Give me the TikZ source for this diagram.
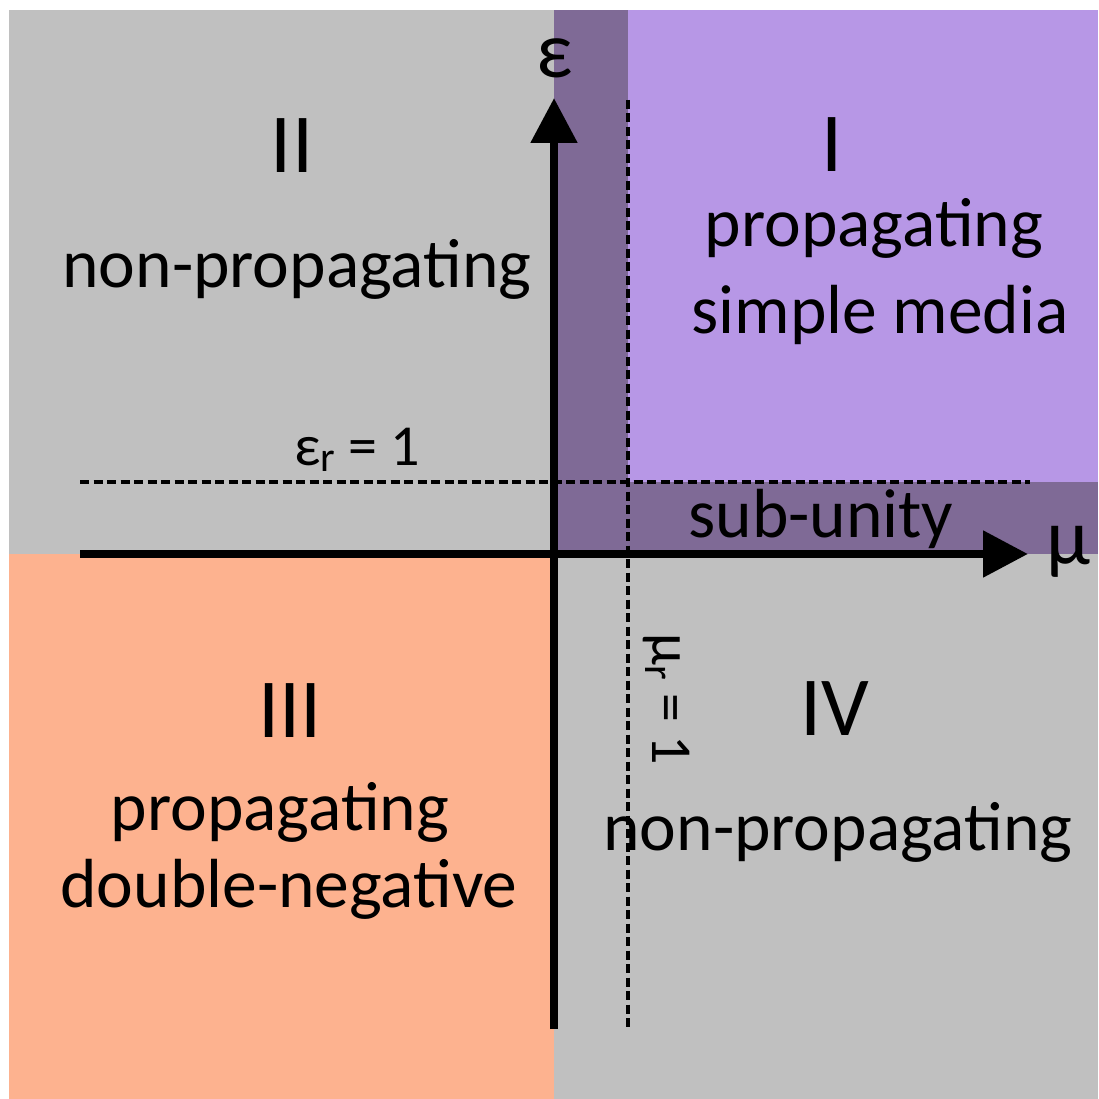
\documentclass[tikz,border=0pt]{standalone}
\usepackage{fontspec}
\setmainfont{Carlito}
\usetikzlibrary{arrows.meta}
\definecolor{qgray}{HTML}{C0C0C0}
\definecolor{qorange}{HTML}{FDB28F}
\definecolor{qlight}{HTML}{B797E6}
\definecolor{qdark}{HTML}{7F6A96}
\newcommand\mysub[1]{\raisebox{-0.25ex}{\fontsize{42}{42}\selectfont #1}}
\begin{document}
\begin{tikzpicture}[x=1pt,y=-1pt,
  big/.style={font=\fontsize{69.5}{80}\selectfont, inner sep=0pt, anchor=base},
  roman/.style={font=\fontsize{84}{96}\selectfont, inner sep=0pt, anchor=base},
  small/.style={font=\fontsize{58}{66}\selectfont, inner sep=0pt, anchor=base},
  axlabel/.style={font=\fontsize{80}{90}\selectfont, inner sep=0pt, anchor=base},
  axis/.style={line width=8.5pt, -{Triangle[length=45pt,width=45pt]}},
  guide/.style={line width=3.2pt, dash pattern=on 9pt off 4.5pt}]
\useasboundingbox (0,0) rectangle (1098,1099);
\fill[white] (0,0) rectangle (1098,1099);
\fill[qgray] (9,10) rectangle (1098,1099);
\fill[qorange] (9,554) rectangle (554,1099);
\fill[qlight] (554,10) rectangle (1098,554);
\fill[qdark] (554,10) rectangle (628,554);
\fill[qdark] (554,482) rectangle (1098,554);
% coordinates
\coordinate (hs) at (80,554);
\coordinate (he) at (1028,554);
\coordinate (vs) at (554,1029);
\coordinate (ve) at (554,98);
\coordinate (gh1) at (80,482);
\coordinate (gh2) at (1030,482);
\coordinate (gv1) at (628,100);
\coordinate (gv2) at (628,1028);
% guides
\draw[guide] (gh1) -- (gh2);
\draw[guide] (gv1) -- (gv2);
% axes
\draw[axis] (hs) -- (he);
\draw[axis] (vs) -- (ve);
% labels
\node[roman] (nII) at (292,173) {II};
\node[big] (tII) at (297,287) {non-propagating};
\node[roman] (nI) at (832,172) {I};
\node[big] (tI1) at (874,247) {propagating};
\node[big] (tI2) at (880,333) {simple media};
\node[roman] (nIII) at (290,737) {III};
\node[big] (tIII1) at (280,830) {propagating};
\node[big] (tIII2) at (289,907) {double-negative};
\node[roman] (nIV) at (835,735) {IV};
\node[big] (tIV) at (838,850) {non-propagating};
\node[big] (sub) at (821,537) {sub-unity};
\node[small] (er) at (357,465) {ε\mysub{r} = 1};
\node[small, rotate=-90] (mr) at (652,699) {μ\mysub{r} = 1};
\node[axlabel] (eps) at (555,78) {ε};
\node[axlabel] (mu) at (1068,564) {μ};
\end{tikzpicture}
\end{document}
